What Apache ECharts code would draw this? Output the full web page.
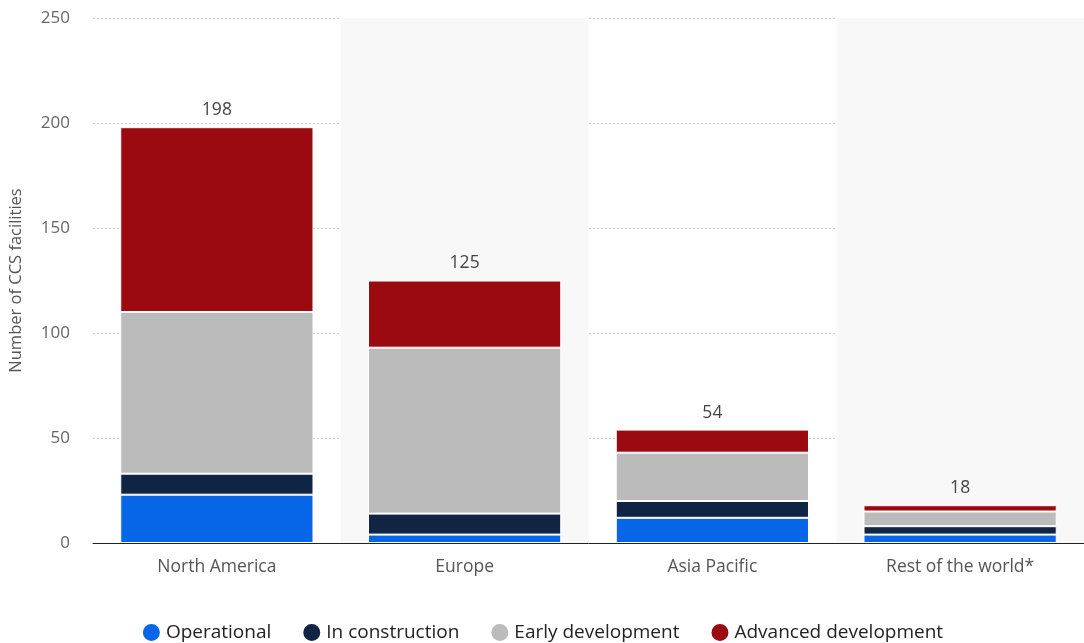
<!DOCTYPE html>
<html>
<head>
<meta charset="utf-8">
<script src="https://cdn.jsdelivr.net/npm/echarts@6/dist/echarts.min.js"></script>
<style>html,body{margin:0;padding:0;background:#fff}#c{width:1084px;height:643px}</style>
</head>
<body>
<div id="c"></div>
<script>
const categories = ['North America', 'Europe', 'Asia Pacific', 'Rest of the world*'];
const operational = [23, 4, 12, 4];
const inConstruction = [10, 10, 8, 4];
const earlyDevelopment = [77, 79, 23, 7];
const advancedDevelopment = [88, 32, 11, 3];
const totals = [198, 125, 54, 18];
const yTicks = [0, 50, 100, 150, 200, 250];

const font = 'Open Sans, Lato, sans-serif';
const chart = echarts.init(document.getElementById('c'));
function mk(name, data, color, last) {
  const s = {
    name, type: 'bar', stack: 'total', data, barWidth: '78%',
    itemStyle: { color, borderColor: '#ffffff', borderWidth: 1 },
    emphasis: { disabled: true }
  };
  if (last) {
    s.label = {
      show: true, position: 'top', distance: 8,
      formatter: p => totals[p.dataIndex],
      color: '#444', fontSize: 17.5, fontFamily: font
    };
  }
  return s;
}
chart.setOption({
  animation: false,
  grid: { left: 93, right: 0, top: 18, bottom: 100 },
  legend: {
    bottom: -5, left: 'center', icon: 'circle', itemWidth: 19, itemHeight: 19, itemGap: 30,
    textStyle: { fontSize: 19, color: '#222', fontFamily: font },
    data: ['Operational', 'In construction', 'Early development', 'Advanced development']
  },
  xAxis: {
    type: 'category', data: categories,
    axisLine: { lineStyle: { color: '#222', width: 1 } },
    axisTick: { show: false },
    axisLabel: { color: '#555', fontSize: 17.5, margin: 15, fontFamily: font },
    splitArea: { show: true, areaStyle: { color: ['rgba(255,255,255,0)', '#f8f8f8'] } }
  },
  yAxis: {
    type: 'value', min: yTicks[0], max: yTicks[yTicks.length - 1], interval: 50,
    name: 'Number of CCS facilities', nameLocation: 'middle', nameGap: 68,
    nameTextStyle: { color: '#555', fontSize: 16.5, fontFamily: font },
    axisLabel: { color: '#666', fontSize: 17, margin: 23, fontFamily: font },
    axisLine: { show: false }, axisTick: { show: false },
    splitLine: { lineStyle: { color: '#cfcfcf', type: [2, 2] } }
  },
  series: [
    mk('Operational', operational, '#0766e8'),
    mk('In construction', inConstruction, '#0f2543'),
    mk('Early development', earlyDevelopment, '#bbbbbb'),
    mk('Advanced development', advancedDevelopment, '#9b0a10', true)
  ]
});
</script>
</body>
</html>
